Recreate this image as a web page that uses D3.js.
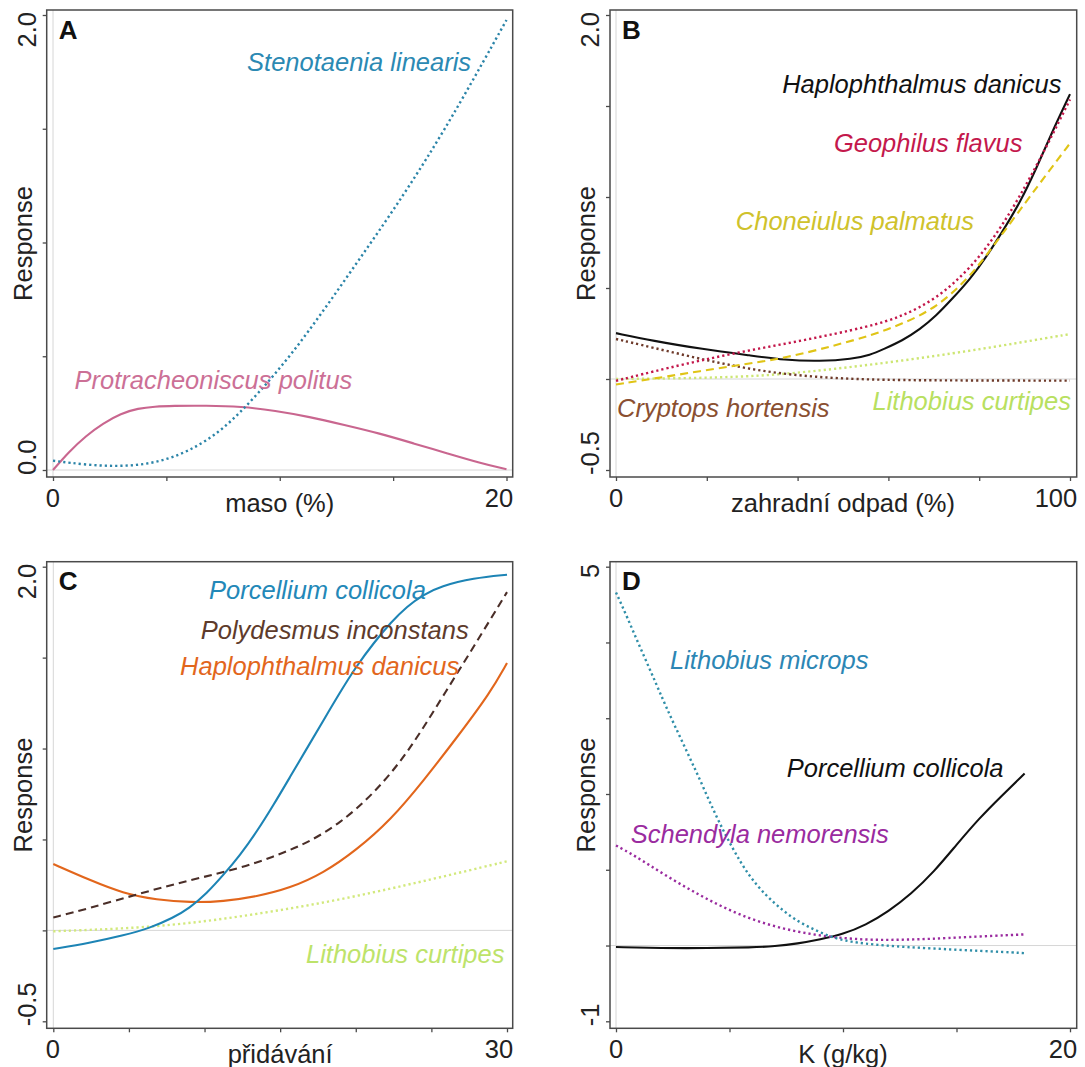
<!DOCTYPE html>
<html><head><meta charset="utf-8">
<script src="https://cdn.jsdelivr.net/npm/d3@7"></script>
<style>
html,body{margin:0;padding:0;background:#fff;}
svg{display:block;}
text{font-family:"Liberation Sans",Arial,sans-serif;}
</style></head>
<body>
<svg id="chart" width="1085" height="1067"></svg>
<script>
// ---------------- DATA ----------------
// Panel A: maso (%)
const xTicksA = [0, 5, 10, 15, 20];
const xTickLabelsA = ["0", "20"];
const yTicksA = [0, 0.5, 1, 1.5, 2];
const yTickLabelsA = ["0.0", "2.0"];
const stenotaeniaX = [0, 1.5, 3, 4.5, 6, 7.5, 9, 10.5, 12, 13.5, 15, 16.5, 18, 20];
const stenotaeniaY = [0.041, 0.022, 0.015, 0.029, 0.081, 0.175, 0.33, 0.505, 0.71, 0.925, 1.14, 1.37, 1.62, 1.978];
const protracheoniscusX = [0, 0.7, 1.45, 2.2, 3, 3.75, 4.5, 5.25, 6.75, 8.3, 9.8, 11.3, 12.85, 14.4, 15.9, 17.4, 18.9, 20];
const protracheoniscusY = [0, 0.08, 0.15, 0.205, 0.249, 0.271, 0.279, 0.282, 0.283, 0.279, 0.261, 0.234, 0.198, 0.161, 0.117, 0.073, 0.029, 0.003];

// Panel B: zahradní odpad (%)
const xTicksB = [0, 20, 40, 60, 80, 100];
const xTickLabelsB = ["0", "100"];
const yTicksB = [-0.5, 0, 0.5, 1, 1.5, 2];
const yTickLabelsB = ["-0.5", "2.0"];
const haplophthalmusBX = [0, 8, 19, 30, 37, 45, 52, 56, 59, 63, 67, 70.5, 74, 78, 81.5, 85, 89, 92.5, 96, 100];
const haplophthalmusBY = [0.252, 0.21, 0.165, 0.128, 0.104, 0.097, 0.11, 0.132, 0.165, 0.21, 0.274, 0.347, 0.439, 0.549, 0.668, 0.805, 0.97, 1.152, 1.354, 1.565];
const geophilusX = [0, 11, 26, 41, 56, 63, 70.5, 78, 85, 92.5, 100];
const geophilusY = [-0.01, 0.059, 0.143, 0.21, 0.289, 0.344, 0.439, 0.604, 0.832, 1.16, 1.536];
const choneiulusX = [0, 11, 26, 37, 48, 56, 63, 70.5, 78, 84, 90.5, 95, 100];
const choneiulusY = [-0.03, 0.013, 0.073, 0.113, 0.183, 0.238, 0.302, 0.39, 0.56, 0.76, 0.98, 1.13, 1.295];
const cryptopsX = [0, 11, 22.5, 33.5, 44.6, 55.7, 70, 100];
const cryptopsY = [0.22, 0.155, 0.088, 0.037, 0.009, -0.004, -0.008, -0.009];
const lithobiusBX = [0, 19, 33.6, 48.3, 63, 78, 89, 100];
const lithobiusBY = [0, 0.005, 0.018, 0.055, 0.1, 0.155, 0.2, 0.247];

// Panel C: přidávání
const xTicksC = [0, 5, 10, 15, 20, 25, 30];
const xTickLabelsC = ["0", "30"];
const yTicksC = [-0.5, 0, 0.5, 1, 1.5, 2];
const yTickLabelsC = ["-0.5", "2.0"];
const porcelliumCX = [0, 2.4, 4.6, 6.4, 7.9, 9.0, 10.15, 11.25, 12.35, 13.45, 14.55, 15.65, 16.75, 17.85, 18.95, 20.05, 21.2, 22.3, 23.4, 24.5, 25.6, 27.8, 30];
const porcelliumCY = [-0.102, -0.069, -0.029, 0.013, 0.068, 0.122, 0.204, 0.305, 0.414, 0.542, 0.688, 0.843, 0.998, 1.153, 1.308, 1.454, 1.582, 1.692, 1.783, 1.847, 1.892, 1.938, 1.956];
const polydesmusX = [0, 2.4, 5.75, 9.05, 12.35, 14.55, 16.75, 18.95, 21.2, 23.4, 25.6, 27.8, 30];
const polydesmusY = [0.071, 0.122, 0.204, 0.277, 0.341, 0.405, 0.478, 0.588, 0.752, 0.971, 1.266, 1.56, 1.86];
const haplophthalmusCX = [0, 2.4, 4.6, 6.85, 9.05, 11.25, 13.45, 15.65, 17.85, 20.05, 22.3, 24.5, 26.7, 28.9, 30];
const haplophthalmusCY = [0.365, 0.277, 0.204, 0.168, 0.153, 0.159, 0.186, 0.232, 0.314, 0.442, 0.606, 0.825, 1.062, 1.308, 1.47];
const lithobiusCX = [0, 5.75, 10.15, 14.55, 18.95, 23.4, 26.7, 30];
const lithobiusCY = [-0.005, 0.013, 0.049, 0.104, 0.168, 0.25, 0.314, 0.38];

// Panel D: K (g/kg)
const xTicksD = [0, 5, 10, 15, 20];
const xTickLabelsD = ["0", "20"];
const yTicksD = [-1, 0, 1, 2, 3, 4, 5];
const yTickLabelsD = ["-1", "5"];
const micropsX = [0, 0.5, 1.05, 1.65, 2.2, 2.95, 3.7, 4.4, 5.15, 5.85, 6.6, 7.35, 8.05, 8.8, 9.5, 10.25, 11.7, 13.9, 16.1, 18];
const micropsY = [4.66, 4.33, 3.94, 3.54, 3.15, 2.67, 2.19, 1.71, 1.27, 0.92, 0.66, 0.46, 0.31, 0.2, 0.11, 0.05, 0.0, -0.04, -0.07, -0.1];
const schendylaX = [0, 0.75, 2.2, 3.7, 5.15, 6.6, 8.05, 9.5, 11, 12.45, 13.9, 15.35, 18];
const schendylaY = [1.32, 1.2, 0.92, 0.66, 0.44, 0.28, 0.175, 0.11, 0.074, 0.074, 0.088, 0.11, 0.147];
const porcelliumDX = [0, 2, 4, 6, 7, 8, 9, 10, 11, 12, 13, 14, 15, 16, 17, 18];
const porcelliumDY = [-0.02, -0.035, -0.035, -0.025, -0.01, 0.025, 0.08, 0.15, 0.27, 0.45, 0.68, 0.97, 1.33, 1.68, 1.98, 2.27];

const axisTitles = ["maso (%)", "zahradní odpad (%)", "přidávání", "K (g/kg)"];
const panelLetters = ["A", "B", "C", "D"];

// ---------------- LAYOUT ----------------
const zip = (xs, ys) => xs.map((x, i) => [x, ys[i]]);
const DOT = "2.2,3", DASH = "8,5";

const panels = [
  { letter: panelLetters[0], letterFont: "Liberation Sans", frame: [46.7, 512.7, 10, 477],
    xr: [53, 506.5], yr: [470, 15], xd: [0, 20], yd: [0, 2],
    xTicks: xTicksA, xLabels: xTickLabelsA, yTicks: yTicksA, yLabels: yTickLabelsA, xTitle: axisTitles[0],
    series: [
      { pts: zip(protracheoniscusX, protracheoniscusY), color: "#c9668f", dash: null },
      { pts: zip(stenotaeniaX, stenotaeniaY), color: "#2b84a8", dash: DOT }
    ],
    labels: [
      { t: "Stenotaenia linearis", x: 8.56, y: 1.754, color: "#2b89b3" },
      { t: "Protracheoniscus politus", x: 0.95, y: 0.356, color: "#cc7096" }
    ] },
  { letter: panelLetters[1], letterFont: "Lato", frame: [610, 1076.7, 10, 477],
    xr: [616, 1070], yr: [470, 15], xd: [0, 100], yd: [-0.5, 2],
    xTicks: xTicksB, xLabels: xTickLabelsB, yTicks: yTicksB, yLabels: yTickLabelsB, xTitle: axisTitles[1],
    series: [
      { pts: zip(lithobiusBX, lithobiusBY), color: "#cde673", dash: DOT },
      { pts: zip(cryptopsX, cryptopsY), color: "#6e3a2a", dash: DOT },
      { pts: zip(haplophthalmusBX, haplophthalmusBY), color: "#111111", dash: null },
      { pts: zip(geophilusX, geophilusY), color: "#c3174a", dash: DOT },
      { pts: zip(choneiulusX, choneiulusY), color: "#e0c416", dash: DASH }
    ],
    labels: [
      { t: "Haplophthalmus danicus", x: 36.6, y: 1.571, color: "#111111" },
      { t: "Geophilus flavus", x: 48.0, y: 1.247, color: "#c4184c" },
      { t: "Choneiulus palmatus", x: 26.4, y: 0.819, color: "#cfc22c" },
      { t: "Cryptops hortensis", x: 0.22, y: -0.209, color: "#8a4f31" },
      { t: "Lithobius curtipes", x: 56.5, y: -0.17, color: "#b8e060" }
    ] },
  { letter: panelLetters[2], letterFont: "Lato", frame: [46.7, 512.7, 561.7, 1028.3],
    xr: [53.3, 507], yr: [1021.3, 566.7], xd: [0, 30], yd: [-0.5, 2],
    xTicks: xTicksC, xLabels: xTickLabelsC, yTicks: yTicksC, yLabels: yTickLabelsC, xTitle: axisTitles[2],
    series: [
      { pts: zip(lithobiusCX, lithobiusCY), color: "#d2e97c", dash: DOT },
      { pts: zip(haplophthalmusCX, haplophthalmusCY), color: "#e2661c", dash: null },
      { pts: zip(polydesmusX, polydesmusY), color: "#4a2e28", dash: DASH },
      { pts: zip(porcelliumCX, porcelliumCY), color: "#1d84b5", dash: null }
    ],
    labels: [
      { t: "Porcellium collicola", x: 10.3, y: 1.824, color: "#2388b8" },
      { t: "Polydesmus inconstans", x: 9.75, y: 1.603, color: "#5e3b2b" },
      { t: "Haplophthalmus danicus", x: 8.38, y: 1.407, color: "#e2661c" },
      { t: "Lithobius curtipes", x: 16.71, y: -0.182, color: "#bde36a" }
    ] },
  { letter: panelLetters[3], letterFont: "Liberation Sans", frame: [610, 1076.7, 561.7, 1028.3],
    xr: [616, 1070], yr: [1021.3, 566.7], xd: [0, 20], yd: [-1, 5],
    xTicks: xTicksD, xLabels: xTickLabelsD, yTicks: yTicksD, yLabels: yTickLabelsD, xTitle: axisTitles[3],
    series: [
      { pts: zip(porcelliumDX, porcelliumDY), color: "#111111", dash: null },
      { pts: zip(schendylaX, schendylaY), color: "#9a2b9f", dash: DOT },
      { pts: zip(micropsX, micropsY), color: "#2f8ea8", dash: DOT }
    ],
    labels: [
      { t: "Lithobius microps", x: 2.38, y: 3.65, color: "#2c86b4" },
      { t: "Porcellium collicola", x: 7.52, y: 2.224, color: "#111111" },
      { t: "Schendyla nemorensis", x: 0.65, y: 1.353, color: "#9a2b9f" }
    ] }
];

const svg = d3.select("#chart");
svg.append("rect").attr("width", 1085).attr("height", 1067).attr("fill", "#fff");

const FS = 25.5;
const frameColor = "#4a4a4a";

panels.forEach(p => {
  const [fx0, fx1, fy0, fy1] = p.frame;
  const x = d3.scaleLinear().domain(p.xd).range(p.xr);
  const y = d3.scaleLinear().domain(p.yd).range(p.yr);
  const g = svg.append("g");

  // zero reference lines
  g.append("line").attr("x1", x(0)).attr("x2", x(0)).attr("y1", fy0).attr("y2", fy1)
    .attr("stroke", "#d6d6d6").attr("stroke-width", 1);
  g.append("line").attr("x1", fx0).attr("x2", fx1).attr("y1", y(0)).attr("y2", y(0))
    .attr("stroke", "#d6d6d6").attr("stroke-width", 1);

  // curves
  const line = d3.line().x(d => x(d[0])).y(d => y(d[1])).curve(d3.curveBasis);
  p.series.forEach(s => {
    g.append("path").attr("d", line(s.pts)).attr("fill", "none")
      .attr("stroke", s.color).attr("stroke-width", s.dash === DOT ? 2.4 : 2.1)
      .attr("stroke-dasharray", s.dash).attr("stroke-linejoin", "round");
  });

  // frame
  g.append("rect").attr("x", fx0).attr("y", fy0).attr("width", fx1 - fx0).attr("height", fy1 - fy0)
    .attr("fill", "none").attr("stroke", frameColor).attr("stroke-width", 1.5);

  // tick marks via d3 axes
  const ax = g.append("g").attr("transform", `translate(0,${fy1})`)
    .call(d3.axisBottom(x).tickValues(p.xTicks).tickSize(4).tickSizeOuter(0).tickFormat(""));
  const ay = g.append("g").attr("transform", `translate(${fx0},0)`)
    .call(d3.axisLeft(y).tickValues(p.yTicks).tickSize(4).tickSizeOuter(0).tickFormat(""));
  [ax, ay].forEach(a => {
    a.select(".domain").remove();
    a.selectAll(".tick line").attr("stroke", frameColor).attr("stroke-width", 1.3);
  });

  // x tick labels (first at left edge, last at right edge)
  g.append("text").attr("x", fx0 - 1).attr("y", fy1 + 29.5).attr("text-anchor", "start")
    .attr("font-size", FS).attr("fill", "#222").text(p.xLabels[0]);
  g.append("text").attr("x", fx1 + 0.5).attr("y", fy1 + 29.5).attr("text-anchor", "end")
    .attr("font-size", FS).attr("fill", "#222").text(p.xLabels[1]);

  // y tick labels (rotated)
  g.append("text").attr("transform", `translate(${fx0 - 11},${fy1 - 2}) rotate(-90)`)
    .attr("text-anchor", "start").attr("font-size", FS).attr("fill", "#222").text(p.yLabels[0]);
  g.append("text").attr("transform", `translate(${fx0 - 11},${fy0 + 2}) rotate(-90)`)
    .attr("text-anchor", "end").attr("font-size", FS).attr("fill", "#222").text(p.yLabels[1]);

  // axis titles
  g.append("text").attr("x", (p.xr[0] + p.xr[1]) / 2).attr("y", fy1 + 34.5).attr("text-anchor", "middle")
    .attr("font-size", FS).attr("fill", "#222").text(p.xTitle);
  g.append("text").attr("transform", `translate(${fx0 - 15},${(fy0 + fy1) / 2}) rotate(-90)`)
    .attr("text-anchor", "middle").attr("font-size", FS).attr("fill", "#222").text("Response");

  // panel letter
  g.append("text").attr("x", fx0 + 12).attr("y", fy0 + 28.5)
    .attr("font-family", p.letterFont).attr("font-weight", "bold").attr("font-size", 26)
    .attr("fill", "#111").text(p.letter);

  // species labels
  p.labels.forEach(l => {
    g.append("text").attr("x", x(l.x)).attr("y", y(l.y)).attr("font-style", "italic")
      .attr("font-size", FS).attr("fill", l.color).text(l.t);
  });
});
</script>
</body></html>
